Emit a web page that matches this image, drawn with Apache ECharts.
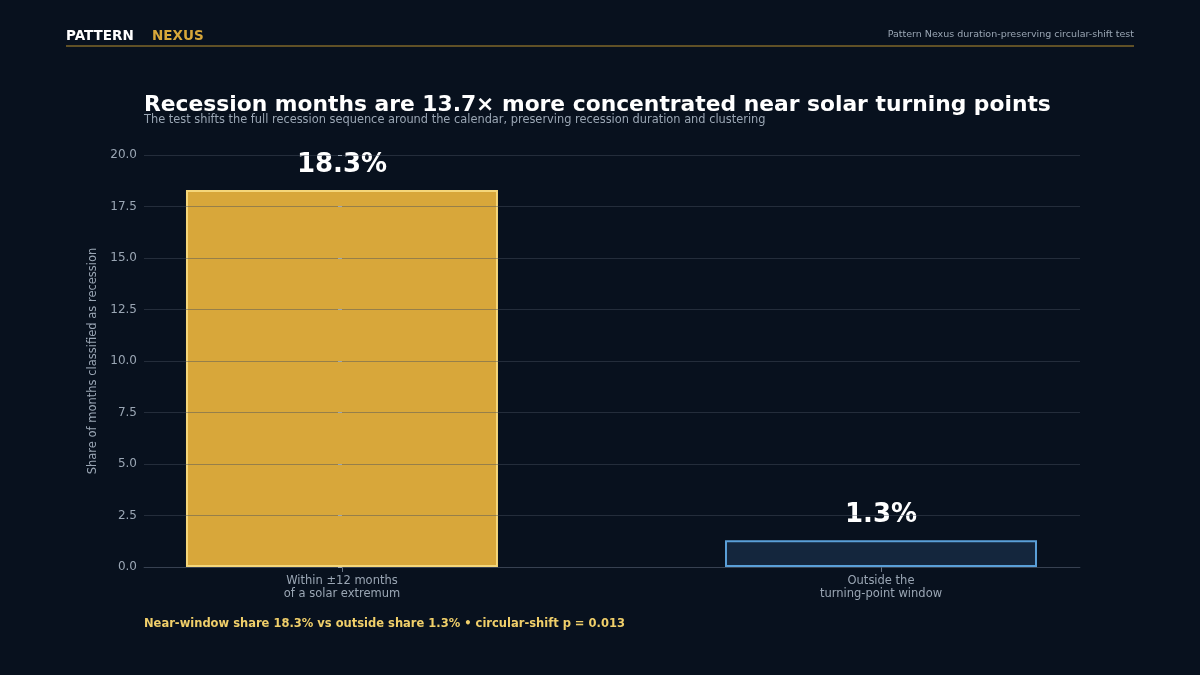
<!DOCTYPE html><html><head><meta charset="utf-8"><script src="https://cdn.jsdelivr.net/npm/echarts@6/dist/echarts.min.js"></script>
<style>html,body{margin:0;background:#08111e}#c{width:1200px;height:675px}</style></head><body><div id="c"></div><script>
const categories=["Within ±12 months\nof a solar extremum","Outside the\nturning-point window"];
const values=[18.3,1.3];
const labels=["18.3%","1.3%"];
const c=echarts.init(document.getElementById('c'));
c.setOption({backgroundColor:'#08111e',animation:false,
graphic:[
{type:'text',left:66,top:29,style:{text:'PATTERN',fill:'#ffffff',font:'bold 13.5px "DejaVu Sans"'}},
{type:'text',left:152,top:29,style:{text:'NEXUS',fill:'#d8a73a',font:'bold 13.5px "DejaVu Sans"'}},
{type:'text',right:66,top:30,style:{text:'Pattern Nexus duration-preserving circular-shift test',fill:'#9aa6b4',font:'9.5px "DejaVu Sans"'}},
{type:'line',shape:{x1:66,y1:46,x2:1134,y2:46},style:{stroke:'#b8912e',lineWidth:1}},
{type:'text',left:144,top:94,style:{text:'Recession months are 13.7× more concentrated near solar turning points',fill:'#ffffff',font:'bold 21.8px "DejaVu Sans"'}},
{type:'text',left:144,top:115,style:{text:'The test shifts the full recession sequence around the calendar, preserving recession duration and clustering',fill:'#9aa6b4',font:'11.4px "DejaVu Sans"'}},
{type:'text',left:144,top:618,style:{text:'Near-window share 18.3% vs outside share 1.3% • circular-shift p = 0.013',fill:'#f0cf6a',font:'bold 11.5px "DejaVu Sans"'}}
],
grid:{left:144,right:120,top:155,bottom:108},
xAxis:{type:'value',min:-0.3673,max:1.3692,splitLine:{show:false},axisLine:{show:true,onZero:false,lineStyle:{color:'#2a3645'}},
axisTick:{show:true,customValues:[0,1],lineStyle:{color:'#6b7685'}},
axisLabel:{customValues:[0,1],formatter:v=>categories[Math.round(v)],color:'#9aa6b4',fontSize:11.5,fontFamily:'DejaVu Sans',lineHeight:13,margin:8}},
yAxis:{type:'value',min:0,max:20,interval:2.5,z:5,name:'Share of months classified as recession',nameLocation:'middle',nameGap:41,nameTextStyle:{color:'#9aa6b4',fontSize:11.5,fontFamily:'DejaVu Sans'},
axisLine:{show:false},axisTick:{show:true,length:4,lineStyle:{color:'#9aa6b4'}},axisLabel:{color:'#9aa6b4',fontSize:12,fontFamily:'DejaVu Sans',margin:7,formatter:v=>v.toFixed(1)},
splitLine:{lineStyle:{color:'rgba(70,80,95,0.45)'}}},
series:[{type:'bar',barWidth:312,data:[
{value:[0,values[0]],itemStyle:{color:'#d8a73a',borderColor:'#f5d77a',borderWidth:2}},
{value:[1,values[1]],itemStyle:{color:'#14263d',borderColor:'#5a9fd8',borderWidth:2}}],
label:{show:true,position:'top',distance:12,color:'#ffffff',fontSize:26,fontWeight:'bold',fontFamily:'DejaVu Sans',formatter:p=>labels[p.dataIndex]}}]
});
</script></body></html>
